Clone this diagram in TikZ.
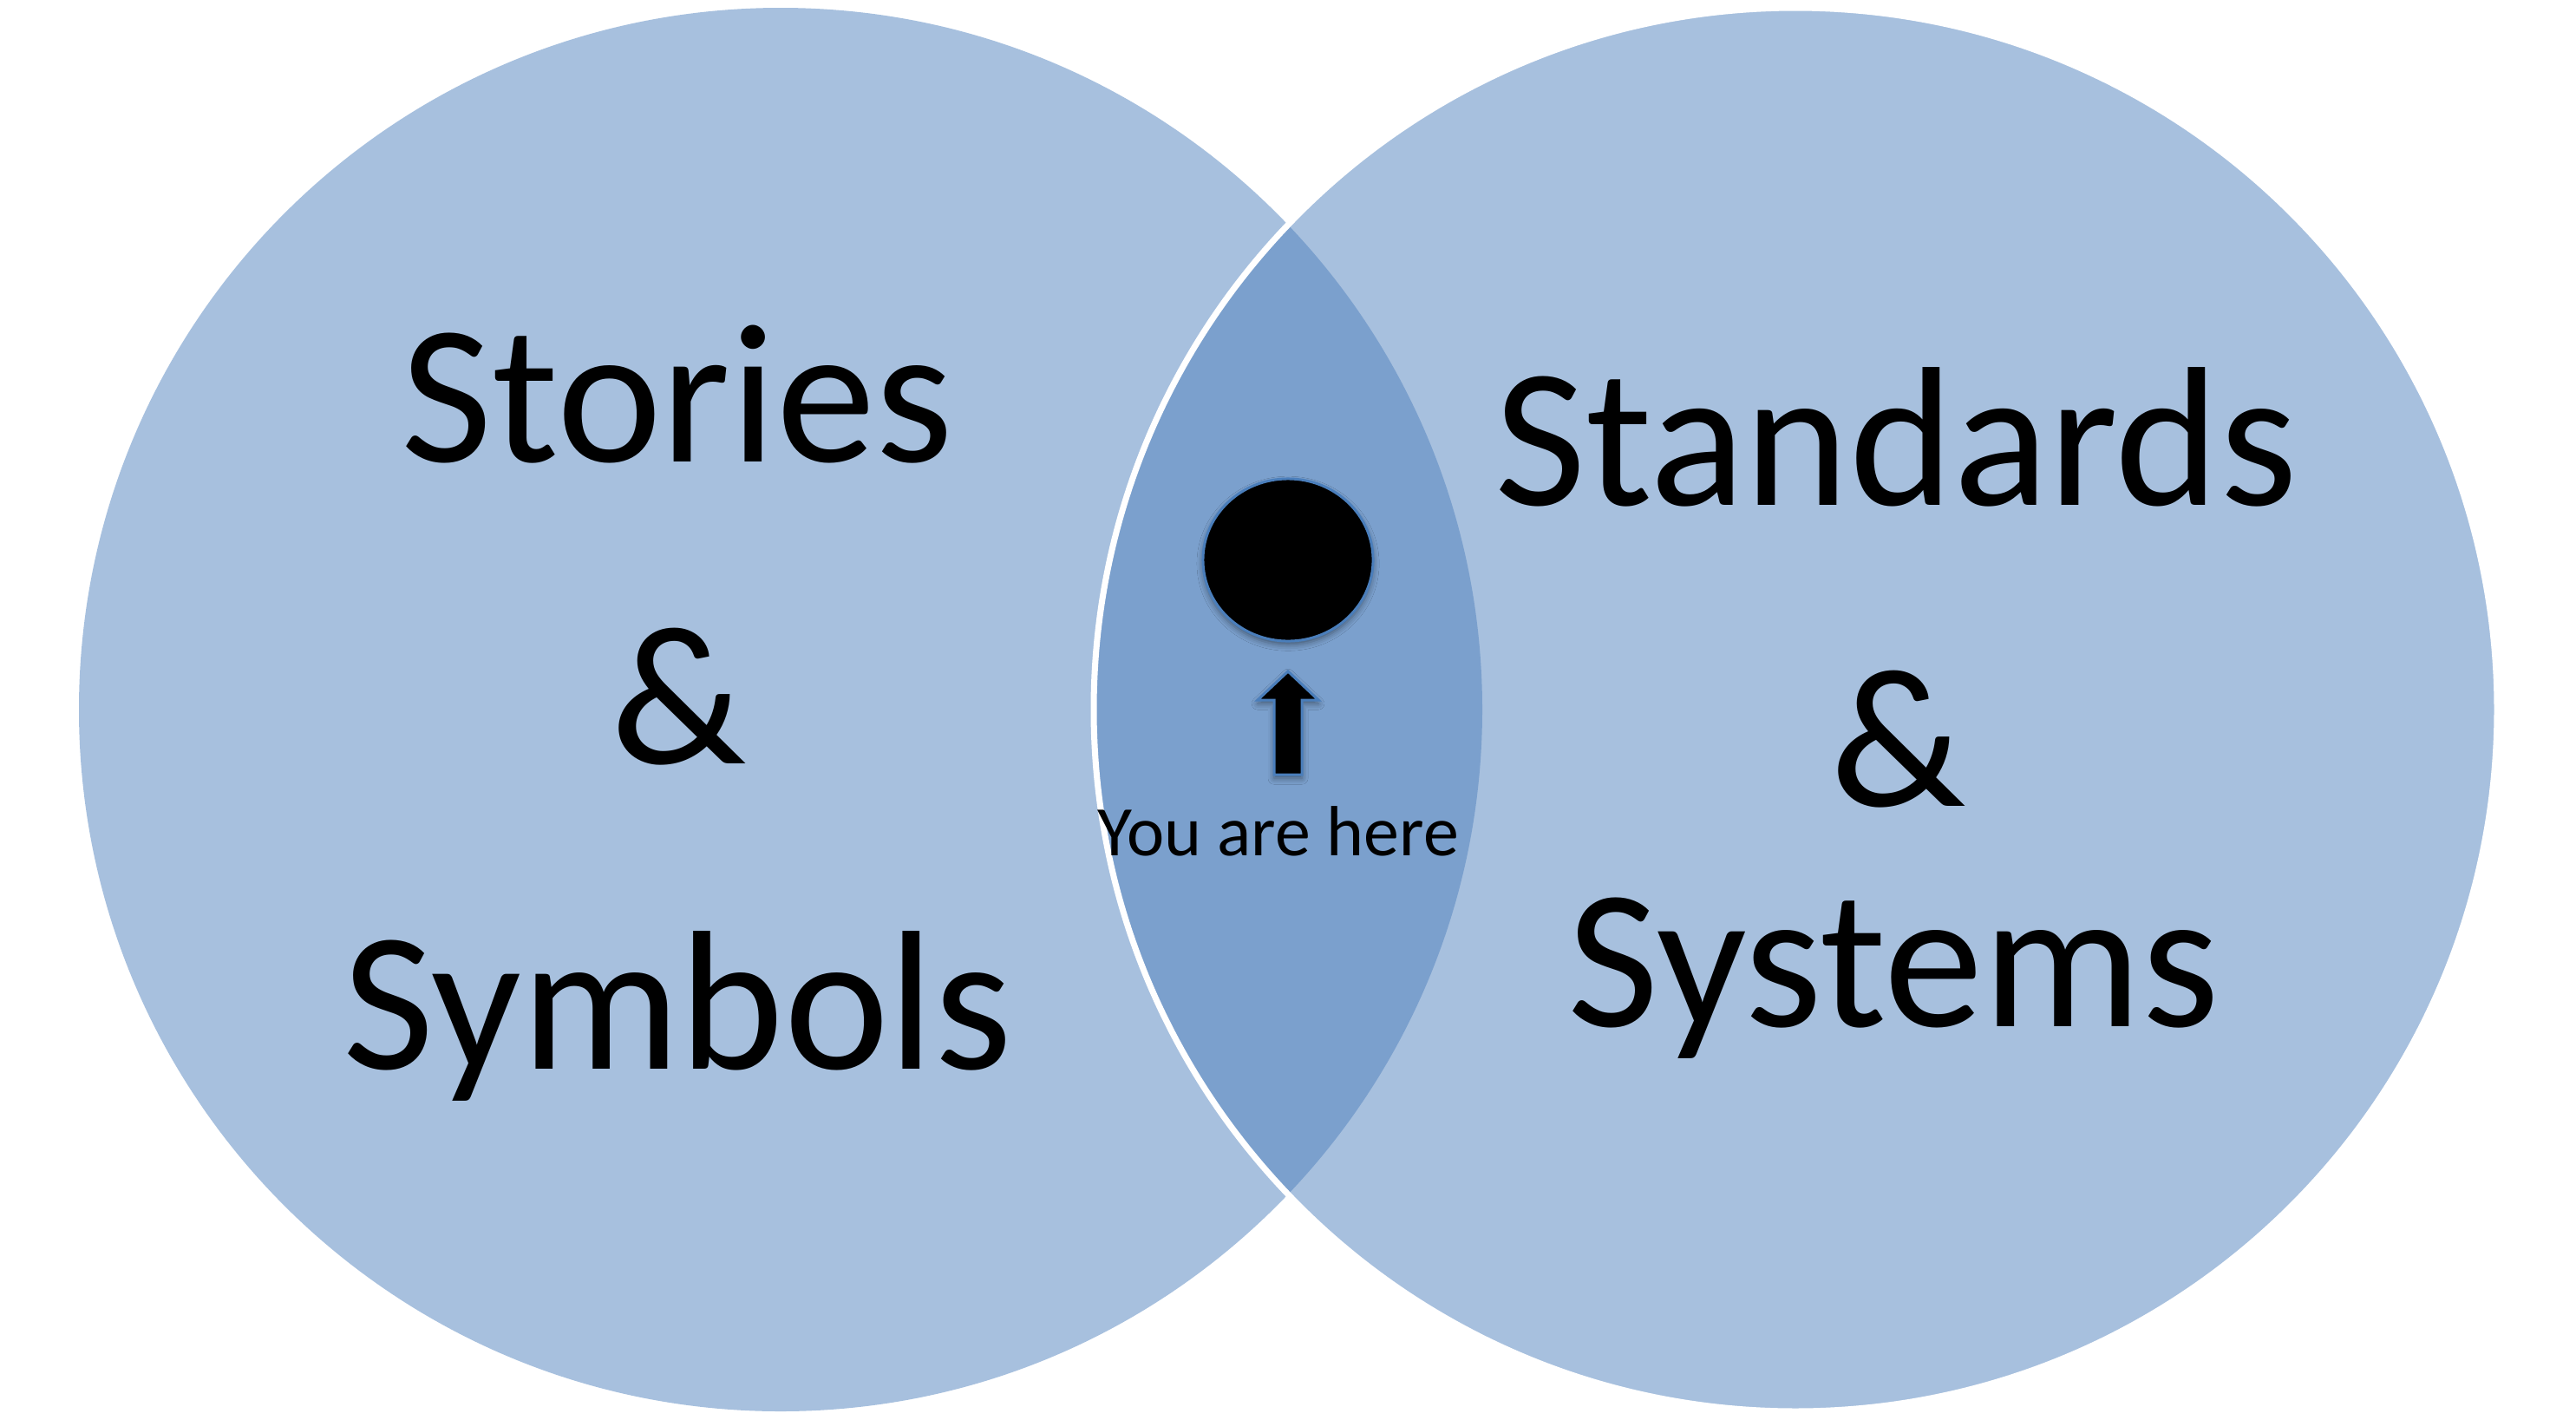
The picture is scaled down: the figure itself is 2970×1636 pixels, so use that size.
\documentclass[tikz,border=0pt]{standalone}
\usepackage{fontspec}
\setmainfont{Carlito}
\usetikzlibrary{shapes.geometric,shadows.blur}
\definecolor{vennlight}{RGB}{167,192,222}
\definecolor{venndark}{RGB}{123,160,205}
\definecolor{markblue}{RGB}{74,126,187}
\begin{document}
\begin{tikzpicture}[x=0.01cm,y=-0.01cm,
  bigword/.style={inner sep=0pt, anchor=base, text=black, font=\fontsize{65.1}{78}\selectfont},
  smallword/.style={inner sep=0pt, anchor=base, text=black, font=\fontsize{23.3}{28}\selectfont},
  markshape/.style={fill=black, draw=markblue, line width=0.85pt,
    blur shadow={shadow xshift=0pt, shadow yshift=-1.2pt, shadow blur radius=2pt, shadow opacity=45}}
]
\useasboundingbox (0,0) rectangle (2970,1636);
\coordinate (cl) at (900,818);
\coordinate (cr) at (2070,818);
% circles
\fill[vennlight] (cl) circle[radius=809];
\fill[vennlight] (cr) circle[radius=809];
% overlap
\begin{scope}
  \clip (cr) circle[radius=809];
  \fill[venndark] (cl) circle[radius=809];
\end{scope}
% white edge of right circle
\draw[white, line width=2pt] (cr) circle[radius=809];
% texts
\node[bigword] (stories) at (780.5,532) {Stories};
\node[bigword] (amp1) at (783,880) {\&};
\node[bigword] (symbols) at (781,1232) {Symbols};
\node[bigword] (standards) at (2186,582) {Standards};
\node[bigword] (amp2) at (2188.5,929) {\&};
\node[bigword] (systems) at (2183.5,1183) {Systems};
\node[smallword] (here) at (1473.5,986) {You are here};
% marker
\node[ellipse, inner sep=0pt, minimum width=1.96cm, minimum height=1.87cm, markshape] (dot) at (1485,645.5) {};
\coordinate (tip) at (1485,774);
\draw[markshape] (tip) -- (1520,807) -- (1501,807) -- (1501,893) -- (1469,893) -- (1469,807) -- (1450,807) -- cycle;
\end{tikzpicture}
\end{document}
